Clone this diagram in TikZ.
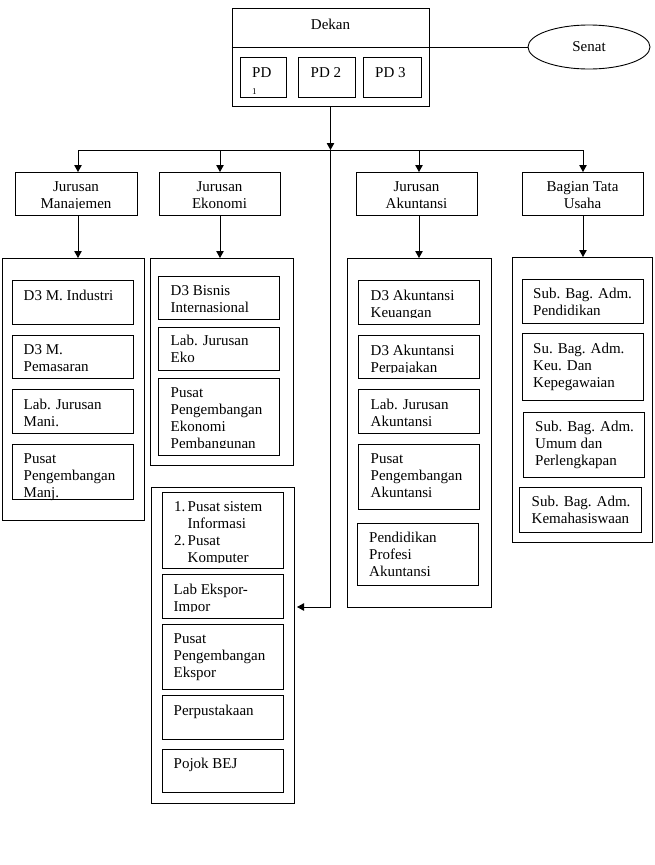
\documentclass[tikz,border=0pt]{standalone}
\usepackage{fontspec}
\setmainfont{Liberation Serif}
\usetikzlibrary{arrows.meta,fit,shapes.geometric}
\tikzset{
  bx/.style={draw, line width=0.9pt, inner sep=0pt, rectangle},
  tx/.style={inner sep=0pt, anchor=base west, align=flush left, text width=125pt, font=\fontsize{15}{17}\selectfont},
  txc/.style={inner sep=0pt, anchor=base, align=flush center, text width=125pt, font=\fontsize{15}{17}\selectfont},
  arr/.style={line width=0.9pt, -{Triangle[length=7pt,width=7.5pt]}},
  ln/.style={line width=0.9pt}
}
\newcommand\bx[5]{\node[bx, fit={(#2,#3) (#4,#5)}] (#1) {};}
\begin{document}
\begin{tikzpicture}[x=1pt,y=-1pt]
\useasboundingbox (0,0) rectangle (654,865);
% Dekan
\bx{dekan}{232}{8}{429}{106}
\node[txc] (tdekan) at (330.5,29) {Dekan};
\draw[ln] (dekan.west |- 0,47) -- (dekan.east |- 0,47);
\bx{pd1}{240}{57}{286}{97}
\bx{pd2}{298}{57}{355}{97}
\bx{pd3}{363}{57}{421}{97}
\node[tx] (tpd1) at (252,77) {PD\\{\fontsize{9}{10}\selectfont 1}};
\node[tx] (tpd2) at (310.5,77) {PD 2};
\node[tx] (tpd3) at (375,77) {PD 3};
\node[draw, ellipse, line width=0.9pt, minimum width=122pt, minimum height=44pt, inner sep=0pt, font=\fontsize{15}{17}\selectfont] (senat) at (589,47) {Senat};
\draw[ln] (dekan.east |- senat.west) -- (senat.west);
% Jurusan
\bx{jm}{15}{172}{137}{215}
\bx{je}{159}{172}{280}{215}
\bx{ja}{356}{172}{477}{215}
\bx{jt}{522}{172}{643}{215}
\begin{scope}
\clip (15,172) rectangle (137,208.5);
\node[txc] (tjm) at (76,191) {Jurusan\\Manajemen};
\end{scope}
\node[txc] (tje) at (219.5,191) {Jurusan\\Ekonomi};
\node[txc] (tja) at (416.5,191) {Jurusan\\Akuntansi};
\node[txc] (tjt) at (582.5,191) {Bagian Tata\\Usaha};
% bus
\coordinate (bus) at (dekan.south |- 0,150);
\draw[arr] (dekan.south) -- (bus);
\draw[ln] (78,150) -- (583,150);
\draw[arr] (78,150) -- (78,172);
\draw[arr] (220,150) -- (220,172);
\draw[arr] (419,150) -- (419,172);
\draw[arr] (583,150) -- (583,172);
% containers
\bx{cm}{2}{258}{144}{520}
\bx{ce}{150}{258}{293}{465}
\bx{cx}{151}{487}{294}{803}
\bx{ca}{347}{258}{491}{607}
\bx{ct}{512}{257}{652}{542}
\draw[arr] (78,215) -- (78,258);
\draw[arr] (220,215) -- (220,258);
\draw[arr] (419,215) -- (419,258);
\draw[arr] (583,215) -- (583,257);
\coordinate (ein) at (297,607);
\draw[arr] (bus) |- (ein);
% Manajemen column
\bx{m1}{12}{280}{133}{324}
\bx{m2}{12}{335}{133}{378}
\bx{m3}{12}{389}{133}{433}
\bx{m4}{12}{444}{133}{499}
\node[tx] (tm1) at (23.5,300.5) {D3 M. Industri};
\node[tx] (tm2) at (23.5,354) {D3 M.\\Pemasaran};
\node[tx] (tm3) at (23.5,409) {Lab. Jurusan\\Mani.};
\node[tx] (tm4) at (23.5,463) {Pusat\\Pengembangan\\Manj.};
% Ekonomi column
\bx{e1}{158}{276}{279}{319}
\bx{e2}{158}{327}{279}{370}
\bx{e3}{158}{378}{279}{455}
\node[tx] (te1) at (170.5,295) {D3 Bisnis\\Internasional};
\node[tx] (te2) at (170.5,345) {Lab. Jurusan\\Eko};
\begin{scope}
\clip (158,378) rectangle (279,447.5);
\node[tx] (te3) at (170.5,397) {Pusat\\Pengembangan\\Ekonomi\\Pembangunan};
\end{scope}
% Ekspor column
\bx{x1}{162}{492}{283}{568}
\bx{x2}{162}{574}{283}{618}
\bx{x3}{162}{624}{283}{689}
\bx{x4}{162}{695}{283}{739}
\bx{x5}{162}{749}{283}{792}
\node[tx] (tx1a) at (174,511.5) {1.};
\node[tx] (tx1b) at (174,545.5) {2.};
\begin{scope}
\clip (162,492) rectangle (283,562);
\node[tx] (tx1c) at (187.5,511.5) {Pusat sistem\\Informasi};
\node[tx] (tx1d) at (187.5,545.5) {Pusat\\Komputer};
\end{scope}
\begin{scope}
\clip (162,574) rectangle (283,611.5);
\node[tx] (tx2) at (173.5,594) {Lab Ekspor-\\Impor};
\end{scope}
\node[tx] (tx3) at (173.5,643) {Pusat\\Pengembangan\\Ekspor};
\node[tx] (tx4) at (173.5,715) {Perpustakaan};
\node[tx] (tx5) at (173.5,768) {Pojok BEJ};
% Akuntansi column
\bx{a1}{358}{280}{479}{324}
\bx{a2}{358}{335}{479}{378}
\bx{a3}{358}{389}{479}{433}
\bx{a4}{358}{444}{479}{509}
\bx{a5}{357}{523}{478}{585}
\begin{scope}
\clip (358,280) rectangle (479,317.5);
\node[tx] (ta1) at (370.5,300.5) {D3 Akuntansi\\Keuangan};
\end{scope}
\begin{scope}
\clip (358,335) rectangle (479,372.5);
\node[tx] (ta2) at (370.5,355) {D3 Akuntansi\\Perpajakan};
\end{scope}
\node[tx] (ta3) at (370.5,409) {Lab. Jurusan\\Akuntansi};
\node[tx] (ta4) at (370.5,463) {Pusat\\Pengembangan\\Akuntansi};
\node[tx] (ta5) at (369,542) {Pendidikan\\Profesi\\Akuntansi};
% Tata Usaha column
\bx{t1}{522}{279}{643}{323}
\bx{t2}{522}{333}{643}{400}
\bx{t3}{523}{412}{644}{477}
\bx{t4}{519}{487}{641}{532}
\node[tx] (tt1) at (533,298) {Sub. Bag. Adm.\\Pendidikan};
\node[tx] (tt2) at (533,353) {Su. Bag. Adm.\\Keu. Dan\\Kepegawaian};
\node[tx] (tt3) at (535,431.5) {Sub. Bag. Adm.\\Umum dan\\Perlengkapan};
\node[tx] (tt4) at (531.5,506.5) {Sub. Bag. Adm.\\Kemahasiswaan};
\end{tikzpicture}
\end{document}
